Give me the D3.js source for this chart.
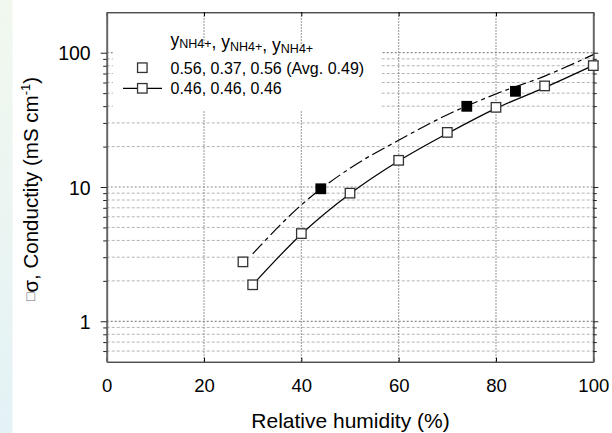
<!DOCTYPE html>
<html>
<head>
<meta charset="utf-8">
<script src="https://cdn.jsdelivr.net/npm/d3@7"></script>
<style>
  body { margin: 0; background: #fff; }
  svg { display: block; font-family: "Liberation Sans", Arial, sans-serif; }
</style>
</head>
<body>
<script>
// x ticks and y decades
const xTicks = [0, 20, 40, 60, 80, 100];
const yMajor = [1, 10, 100];
const yMinor = [0.6, 0.7, 0.8, 0.9, 2, 3, 4, 5, 6, 7, 8, 9, 20, 30, 40, 50, 60, 70, 80, 90];

// series 0.46, 0.46, 0.46 (open squares, solid line)
const evenX = [30, 40, 50, 60, 70, 80, 90, 100];
const evenY = [1.87, 4.5, 9.0, 15.8, 25.5, 39.2, 56.6, 80.2];

// series 0.56, 0.37, 0.56 (avg 0.49)
const unevenOpenX = [28];
const unevenOpenY = [2.77];
const unevenFilledX = [44, 74, 84];
const unevenFilledY = [9.7, 39.9, 51.6];

// fitted curves
const fitSolidX = [30, 40, 50, 60, 70, 80, 90, 100];
const fitSolidY = [1.87, 4.45, 8.9, 15.6, 25.0, 38.5, 55.0, 80.5];
const fitDashX = [30, 40, 50, 60, 70, 80, 90, 100];
const fitDashY = [3.18, 7.35, 13.8, 22.3, 34.5, 49.3, 67, 96.8];

const width = 612, height = 433;
const margin = { top: 12.3, right: 18.7, bottom: 71.3, left: 106.7 };

const svg = d3.select('body').append('svg')
    .attr('width', width)
    .attr('height', height);

// left strip
const grad = svg.append('defs').append('linearGradient')
    .attr('id', 'strip').attr('x1', 0).attr('y1', 0).attr('x2', 0).attr('y2', 1);
grad.append('stop').attr('offset', 0).attr('stop-color', '#f1f8ee');
grad.append('stop').attr('offset', 1).attr('stop-color', '#e4f2f6');
svg.append('rect').attr('x', 0).attr('y', 0).attr('width', 12.5).attr('height', height)
    .attr('fill', 'url(#strip)');

const x = d3.scaleLinear().domain([0, 100]).range([margin.left, width - margin.right]);
const y = d3.scaleLog().domain([0.5, 200]).range([height - margin.bottom, margin.top]);

// grid
svg.append('g').selectAll('line').data(yMinor).enter().append('line')
    .attr('x1', x(0)).attr('x2', x(100))
    .attr('y1', d => y(d)).attr('y2', d => y(d))
    .attr('stroke', '#b4b4b4').attr('stroke-width', 1).attr('stroke-dasharray', '3,2');
svg.append('g').selectAll('line').data(yMajor).enter().append('line')
    .attr('x1', x(0)).attr('x2', x(100))
    .attr('y1', d => y(d)).attr('y2', d => y(d))
    .attr('stroke', '#8a8a8a').attr('stroke-width', 1.2).attr('stroke-dasharray', '2,2');
svg.append('g').selectAll('line').data(xTicks.slice(1, -1)).enter().append('line')
    .attr('x1', d => x(d)).attr('x2', d => x(d))
    .attr('y1', y(0.5)).attr('y2', y(200))
    .attr('stroke', '#8a8a8a').attr('stroke-width', 1.2).attr('stroke-dasharray', '1.5,1.5');

// legend background hides the grid
svg.append('rect').attr('x', 113).attr('y', 46).attr('width', 268).attr('height', 64)
    .attr('fill', '#fff');

// axes
const xBottom = d3.axisBottom(x).tickValues(xTicks).tickSize(-4).tickPadding(17);
const xTop = d3.axisTop(x).tickValues(xTicks).tickSize(-4).tickFormat('');
const yLeft = d3.axisLeft(y).tickValues(yMajor.concat(yMinor)).tickSize(0).tickFormat('');
const yRight = d3.axisRight(y).tickValues(yMajor.concat(yMinor)).tickSize(0).tickFormat('');

const gB = svg.append('g').attr('transform', `translate(0,${y(0.5)})`).call(xBottom);
gB.selectAll('text').attr('font-size', 18.5).attr('fill', '#000').attr('font-family', null);
gB.select('.domain').attr('stroke', '#000');
const gT = svg.append('g').attr('transform', `translate(0,${y(200)})`).call(xTop);
gT.select('.domain').attr('stroke', '#000');

const gL = svg.append('g').attr('transform', `translate(${x(0)},0)`).call(yLeft);
gL.selectAll('.tick line').attr('x2', d => yMajor.includes(d) ? -6 : -3.5).attr('stroke', '#222');
gL.select('.domain').attr('stroke', '#666').attr('stroke-width', 2);
gL.selectAll('.tick').filter(d => yMajor.includes(d)).append('text')
    .attr('x', -16).attr('dy', '0.36em').attr('text-anchor', 'end')
    .attr('font-size', 19.5).attr('fill', '#000').text(d => d);

const gR = svg.append('g').attr('transform', `translate(${x(100)},0)`).call(yRight);
gR.selectAll('.tick line').attr('x2', d => yMajor.includes(d) ? 5 : 3.5).attr('stroke', '#222');
gR.select('.domain').attr('stroke', '#666').attr('stroke-width', 2);

// fitted curves
const line = d3.line().x(d => x(d[0])).y(d => y(d[1])).curve(d3.curveMonotoneX);
svg.append('path').datum(d3.zip(fitDashX, fitDashY)).attr('d', line)
    .attr('fill', 'none').attr('stroke', '#000').attr('stroke-width', 1.2)
    .attr('stroke-dasharray', '14,4,4,4');
svg.append('path').datum(d3.zip(fitSolidX, fitSolidY)).attr('d', line)
    .attr('fill', 'none').attr('stroke', '#000').attr('stroke-width', 1.2);

// markers
const sq = 9.5;
function squares(xs, ys, filled) {
    svg.append('g').selectAll('rect').data(d3.zip(xs, ys)).enter().append('rect')
        .attr('x', d => x(d[0]) - sq / 2).attr('y', d => y(d[1]) - sq / 2)
        .attr('width', sq).attr('height', sq)
        .attr('fill', filled ? '#000' : '#fff')
        .attr('stroke', filled ? '#000' : '#333').attr('stroke-width', 1.3);
}
squares(evenX, evenY, false);
squares(unevenOpenX, unevenOpenY, false);
squares(unevenFilledX, unevenFilledY, true);

// legend
const title = svg.append('text').attr('x', 170.5).attr('y', 45.5).attr('font-size', 17.5);
[0, 1, 2].forEach(i => {
    title.append('tspan').text((i ? ', ' : '') + 'y');
    title.append('tspan').attr('font-size', 12.5).attr('dy', 2.5).text('NH4+');
    title.append('tspan').attr('dy', -2.5).text('');
});
const legendRows = ['0.56, 0.37, 0.56 (Avg. 0.49)', '0.46, 0.46, 0.46'];
legendRows.forEach((t, i) => {
    const cy = 67.7 + i * 20.6;
    if (i === 1) {
        svg.append('line').attr('x1', 123).attr('x2', 162).attr('y1', cy).attr('y2', cy)
            .attr('stroke', '#000').attr('stroke-width', 1.2);
    }
    svg.append('rect').attr('x', 142.3 - sq / 2).attr('y', cy - sq / 2)
        .attr('width', sq).attr('height', sq)
        .attr('fill', '#fff').attr('stroke', '#333').attr('stroke-width', 1.3);
    svg.append('text').attr('x', 170.5).attr('y', cy + 5.8).attr('font-size', 16).text(t);
});

// axis titles
svg.append('text').attr('x', 350.5).attr('y', 427.5).attr('text-anchor', 'middle')
    .attr('font-size', 21).text('Relative humidity (%)');

const yl = svg.append('text').attr('transform', 'translate(38,189) rotate(-90)')
    .attr('text-anchor', 'middle').attr('font-size', 20.5);
yl.append('tspan').attr('font-size', 14).attr('dy', -3).attr('fill', '#666').text('\u25A1');
yl.append('tspan').attr('dy', 3).text('\u03C3, Conductity (mS cm');
yl.append('tspan').attr('font-size', 13).attr('dy', -8).text('-1');
yl.append('tspan').attr('dy', 8).text(')');
</script>
</body>
</html>
